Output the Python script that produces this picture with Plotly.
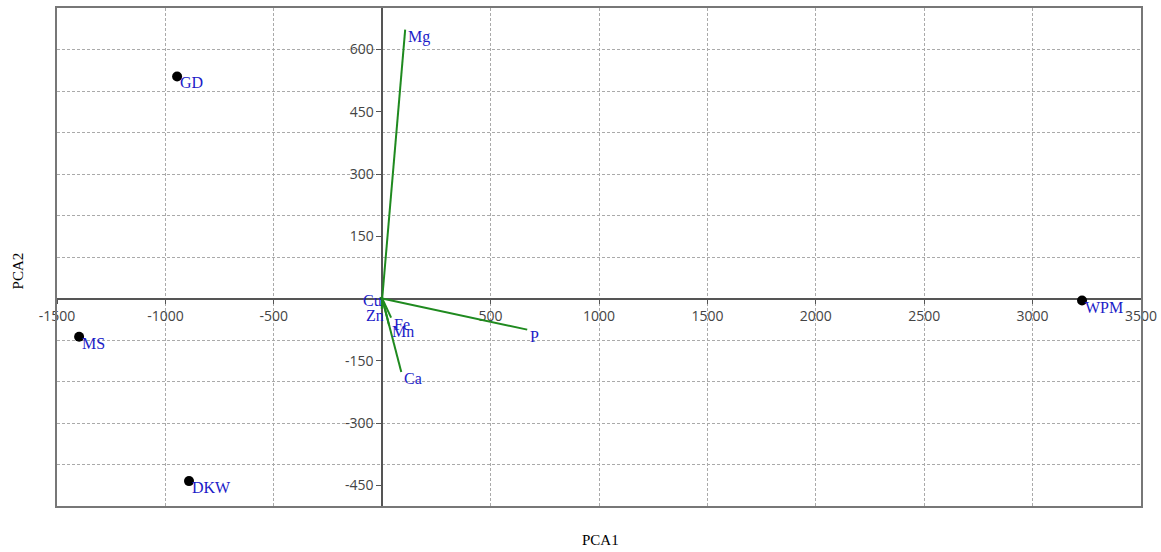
import plotly.graph_objects as go

# Sample scores (PCA1, PCA2)
samples = ["GD", "MS", "DKW", "WPM"]
sample_pc1 = [-946, -1398, -891, 3228]
sample_pc2 = [535, -92, -440, -5]

# Variable loadings (biplot vectors)
variables = ["Cu", "Zn", "Fe", "Mn", "Ca", "P", "Mg"]
var_pc1 = [-12, -2, 41, 32, 88, 669, 106]
var_pc2 = [2, -25, -46, -65, -177, -75, 648]

x_range = [-1500, 3500]
y_range = [-500, 700]
x_ticks = [-1500, -1000, -500, 500, 1000, 1500, 2000, 2500, 3000, 3500]
y_ticks = [-450, -300, -150, 150, 300, 450, 600]

label_blue = "#1c1cc8"
green = "#1f8a1f"
tick_font = dict(family="Open Sans, Noto Sans, sans-serif", size=14, color="#444444")
serif = "Liberation Serif, Times New Roman, serif"

fig = go.Figure()

# vectors
vx, vy = [], []
for a, b in zip(var_pc1, var_pc2):
    vx += [0, a, None]
    vy += [0, b, None]
fig.add_trace(go.Scatter(x=vx, y=vy, mode="lines", line=dict(color=green, width=2),
                         hoverinfo="skip", showlegend=False))

# sample points
fig.add_trace(go.Scatter(x=sample_pc1, y=sample_pc2, mode="markers",
                         marker=dict(color="black", size=10),
                         text=samples, showlegend=False))

# empty trace to materialize the frame/grid axes
fig.add_trace(go.Scatter(x=[], y=[], xaxis="x2", yaxis="y2", showlegend=False))

anns = []
for name, a, b in zip(samples, sample_pc1, sample_pc2):
    anns.append(dict(x=a, y=b, text=name, showarrow=False, xanchor="left", yanchor="top",
                     xshift=1, yshift=4, font=dict(family=serif, size=16, color=label_blue)))
for name, a, b in zip(variables, var_pc1, var_pc2):
    anns.append(dict(x=a, y=b, text=name, showarrow=False,
                     xanchor="right" if a < 0 else "left", yanchor="top",
                     xshift=4 if a < 0 else 1, yshift=8 if a < 0 and b > 0 else 4,
                     font=dict(family=serif, size=16, color=label_blue)))
anns.append(dict(x=0.501, y=-0.068, xref="paper", yref="paper", text="PCA1", showarrow=False,
                 xanchor="center", yanchor="middle",
                 font=dict(family=serif, size=15, color="black")))
anns.append(dict(x=-0.036, y=0.473, xref="paper", yref="paper", text="PCA2", showarrow=False,
                 xanchor="center", yanchor="middle",
                 textangle=-90, font=dict(family=serif, size=15, color="black")))

x0_pos = (0 - y_range[0]) / (y_range[1] - y_range[0])
y0_pos = (0 - x_range[0]) / (x_range[1] - x_range[0])

fig.update_layout(
    width=1161, height=552,
    margin=dict(l=57, r=20, t=8, b=46, autoexpand=False),
    plot_bgcolor="white", paper_bgcolor="white",
    annotations=anns,
    xaxis=dict(range=x_range, tickvals=x_ticks, ticktext=[str(v) for v in x_ticks],
               anchor="free", position=x0_pos, automargin=False, ticklabeloverflow="allow",
               showgrid=False, zeroline=False, showline=True, linecolor="#555555", linewidth=1.5,
               ticks="outside", ticklen=5, tickcolor="#555555", tickfont=tick_font,
               layer="below traces"),
    yaxis=dict(range=y_range, tickvals=y_ticks, ticktext=[str(v) for v in y_ticks],
               anchor="free", position=y0_pos, automargin=False, ticklabeloverflow="allow",
               showgrid=False, zeroline=False, showline=True, linecolor="#555555", linewidth=1.5,
               ticks="outside", ticklen=5, tickcolor="#555555", tickfont=tick_font,
               layer="below traces"),
    xaxis2=dict(range=x_range, overlaying="x", anchor="y2", dtick=500, tick0=0, automargin=False,
                showgrid=True, gridcolor="#aaaaaa", griddash="3px,2px", gridwidth=1,
                zeroline=False, showline=True, mirror=True, linecolor="#777777", linewidth=1.5,
                showticklabels=False, ticks=""),
    yaxis2=dict(range=y_range, overlaying="y", anchor="x2", dtick=100, tick0=0, automargin=False,
                showgrid=True, gridcolor="#aaaaaa", griddash="3px,2px", gridwidth=1,
                zeroline=False, showline=True, mirror=True, linecolor="#777777", linewidth=1.5,
                showticklabels=False, ticks=""),
)

fig.write_html("out.html", config={"displayModeBar": False},
               post_script="document.body.style.margin='0';document.body.style.overflow='hidden';")
